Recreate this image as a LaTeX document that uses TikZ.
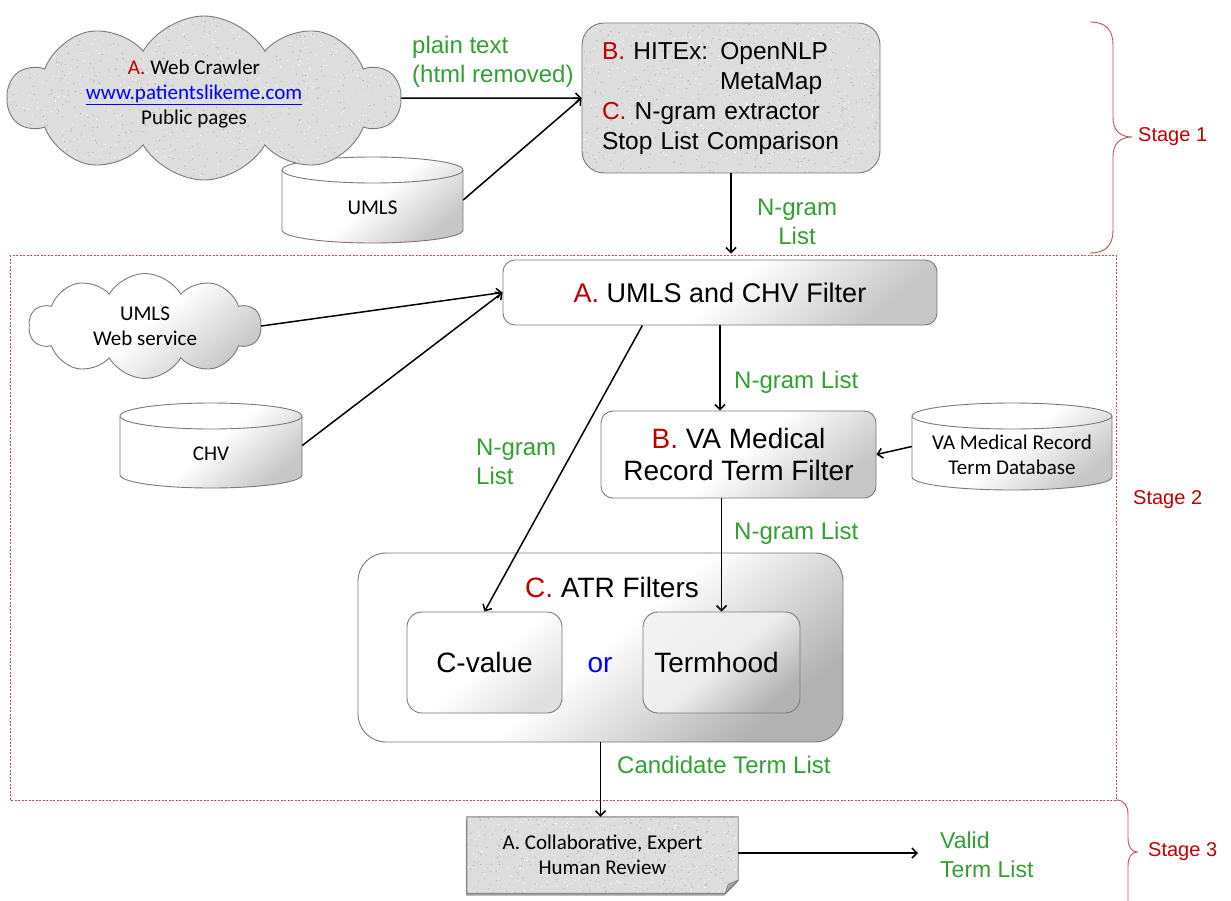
\documentclass[tikz,border=0pt]{standalone}
\usepackage{fontspec}
\setmainfont{Liberation Sans}
\newfontfamily\calibfont{Carlito}
\usetikzlibrary{shapes.symbols,arrows.meta,backgrounds,shadows,calc}
\definecolor{stepred}{HTML}{C00000}
\definecolor{labgreen}{RGB}{48,160,48}
\definecolor{bracered}{HTML}{C0504D}
\definecolor{granite}{HTML}{DDDDDD}
\definecolor{rimgray}{HTML}{7A7A7A}

\tikzset{
  flow/.style={-{Straight Barb[length=5pt,width=10pt]}, line width=1.5pt},
  % white-to-grey shading towards the lower right corner; argument: corner tone
  softto/.style={top color=white, bottom color=black!#1, middle color=white, shading angle=40},
  soft/.style={softto=22},
  % speckled stone fill; arguments: half width, half height, number of specks
  speckled/.style n args={3}{fill=granite, path picture={
      \pgfmathsetseed{#3}
      \foreach \k in {1,...,#3}{
        \fill[black!32] ([shift={(rand*#1,rand*#2)}]path picture bounding box.center) circle (0.6pt);
        \fill[white] ([shift={(rand*#1,rand*#2)}]path picture bounding box.center) circle (0.6pt);
      }}},
  procbox/.style={rectangle, rounded corners=12pt, draw=rimgray, line width=0.9pt, soft,
                  align=center, inner sep=0pt},
  lab/.style={text=labgreen, font=\fontsize{24}{29}\selectfont, inner sep=0pt, align=left},
  stagelab/.style={text=stepred, font=\fontsize{20}{24}\selectfont, inner sep=0pt, anchor=west},
  calib/.style={font=\calibfont\fontsize{21}{25}\selectfont, align=center, inner sep=0pt},
  dbbody/.style={draw=rimgray, line width=0.9pt, soft},
  dbline/.style={draw=rimgray, line width=0.9pt},
  bracepen/.style={draw=bracered, line width=0.9pt},
}

% database drum: name, centre x, centre y, width, height, text
\newcommand\dbdrum[6]{%
  \node[minimum width=#4, minimum height=#5, inner sep=0pt] (#1) at (#2,#3) {};
  \node[calib] (#1txt) at (#2,#3+8) {#6};
  \begin{scope}[on background layer]
    \path[dbbody] (#2-#4/2,#3-#5/2+13) -- (#2-#4/2,#3+#5/2-13)
      arc[start angle=180,end angle=0,x radius=#4/2,y radius=13]
      -- (#2+#4/2,#3-#5/2+13)
      arc[start angle=0,end angle=-180,x radius=#4/2,y radius=13] -- cycle;
    \draw[dbline] (#2-#4/2,#3-#5/2+13)
      arc[start angle=180,end angle=0,x radius=#4/2,y radius=13];
  \end{scope}}

\begin{document}
\begin{tikzpicture}[x=1pt,y=-1pt]
\useasboundingbox (0,0) rectangle (1231,900);

% ---------------- Stage 1 ----------------
\node[cloud, cloud puffs=10, cloud puff arc=120, aspect=2.4, draw=rimgray, line width=0.9pt,
      speckled={200}{85}{700}, minimum width=392, minimum height=164, calib] (crawler) at (204,98) {};
\node[calib] (crawlertxt) at (194,94)
  {\textcolor{stepred}{A.} Web Crawler\\
   \textcolor{blue}{\underline{www.patientslikeme.com}}\\
   Public pages};

\node[rectangle, rounded corners=22pt, draw=rimgray, line width=0.9pt, speckled={150}{76}{500},
      minimum width=298, minimum height=150, text width=258, align=left, inner sep=0pt,
      font=\fontsize{24.5}{30}\selectfont] (hitex) at (731,98)
  {\textcolor{stepred}{B.} HITEx: OpenNLP\\
   \hspace*{118pt}MetaMap\\
   \textcolor{stepred}{C.} N-gram extractor\\
   Stop List Comparison};

\dbdrum{umlsdb}{372.5}{200}{181}{86}{UMLS}

\node[lab, anchor=west] (plainlab) at (412,61.5) {plain text\\(html removed)};
\node[lab, align=center] (ngramtop) at (797,222) {N-gram\\List};

\draw[flow] (crawler.east) -- (hitex.west);
\draw[flow] (umlsdb.east) -- (hitex.west);

% ---------------- Stage 2 ----------------
\draw[draw=bracered, line width=0.8pt, dash pattern=on 2pt off 1.5pt] (10,255) rectangle (1116,800);

\node[cloud, cloud puffs=10, cloud puff arc=120, aspect=2.2, draw=rimgray, line width=0.9pt,
      soft, minimum width=232, minimum height=105, calib] (webservice) at (145,326)
  {UMLS\\Web service};

\dbdrum{chvdb}{211}{445.5}{182}{85}{CHV}

\node[procbox, minimum width=434, minimum height=65, font=\fontsize{27}{32}\selectfont]
  (umlsfilter) at (720,292.5) {\textcolor{stepred}{A.} UMLS and CHV Filter};

\node[procbox, minimum width=275, minimum height=87, font=\fontsize{28}{32}\selectfont]
  (vafilter) at (738.5,454.5) {\textcolor{stepred}{B.} VA Medical\\Record Term Filter};

\dbdrum{vadb}{1012}{446.5}{200}{87}{VA Medical Record\\Term Database}

\node[procbox, rounded corners=28pt, minimum width=485, minimum height=189, softto=30]
  (atr) at (600.5,647.5) {};
\node[inner sep=0pt, font=\fontsize{28}{32}\selectfont] (atrtitle) at (612,587)
  {\textcolor{stepred}{C.} ATR Filters};
\node[procbox, rounded corners=15pt, minimum width=155, minimum height=101,
      font=\fontsize{28}{32}\selectfont, softto=12]
  (cvalue) at (484.5,662.5) {C-value};
\node[procbox, rounded corners=15pt, minimum width=157, minimum height=101,
      font=\fontsize{28}{32}\selectfont, top color=black!5, bottom color=black!30,
      middle color=black!7, shading angle=40]
  (termhood) at (721.5,662.5) {Termhood\hspace*{10pt}};
\node[inner sep=0pt, text=blue, font=\fontsize{28}{32}\selectfont] (ornode) at (600,665) {or};

\node[lab, anchor=west] (ngramab) at (734,382) {N-gram List};
\node[lab, anchor=west] (ngramleft) at (476,462) {N-gram\\List};
\node[lab, anchor=west] (ngrambc) at (734,533) {N-gram List};
\node[lab, anchor=west] (candlab) at (617,765) {Candidate Term List};

\draw[flow, shorten >=6pt] (hitex.south) -- (hitex.south |- umlsfilter.north);
\draw[flow] (webservice.east) -- (umlsfilter.west);
\draw[flow] (chvdb.east) -- (umlsfilter.west);
\draw[flow] (umlsfilter.south) -- (umlsfilter.south |- vafilter.north);
\draw[flow] (umlsfilter.203) -- (cvalue.north);
\draw[flow] (vadb.west) -- (vafilter.east);
\draw[flow] (termhood.north |- vafilter.south) -- (termhood.north);

% ---------------- Stage 3 ----------------
\node[calib, minimum width=271, minimum height=76] (review) at (602.5,855)
  {A. Collaborative, Expert\\Human Review};
\begin{scope}[on background layer]
  \path[draw=rimgray, line width=0.9pt, speckled={136}{40}{350},
        drop shadow={shadow xshift=-1pt, shadow yshift=-2.5pt, opacity=0.55, fill=black!70}]
    (review.north west) -- (review.north east) -- ($(review.south east)+(0,-13)$)
    -- ($(review.south east)+(-13,0)$) -- (review.south west) -- cycle;
  \path[fill=black!35, draw=rimgray, line width=0.6pt]
    ($(review.south east)+(0,-13)$) -- ($(review.south east)+(-13,0)$)
    -- ($(review.south east)+(-10,-9)$) -- cycle;
\end{scope}
\coordinate (validend) at (918,853);
\node[lab, anchor=west, font=\fontsize{23}{29}\selectfont] (validlab) at (940,855) {Valid\\Term List};

\draw[flow] (atr.south) -- (atr.south |- review.north);
\draw[flow] (review.east |- validend) -- (validend);

% ---------------- stage braces and labels ----------------
\draw[bracepen] (1090,22) .. controls (1106,22) and (1113,30) .. (1113,45) -- (1113,118)
  .. controls (1113,130) and (1120,137) .. (1132,137)
  .. controls (1120,137) and (1113,144) .. (1113,156) -- (1113,230)
  .. controls (1113,245) and (1106,253) .. (1090,253);
\node[stagelab] (stage1) at (1138,137) {Stage 1};
\node[stagelab] (stage2) at (1133,500) {Stage 2};
\draw[bracepen] (1116,800) .. controls (1124,800) and (1128,806) .. (1128,814) -- (1128,838)
  .. controls (1128,846) and (1131,852) .. (1137,852)
  .. controls (1131,852) and (1128,858) .. (1128,866) -- (1128,905);
\node[stagelab] (stage3) at (1148,852) {Stage 3};
\end{tikzpicture}
\end{document}
